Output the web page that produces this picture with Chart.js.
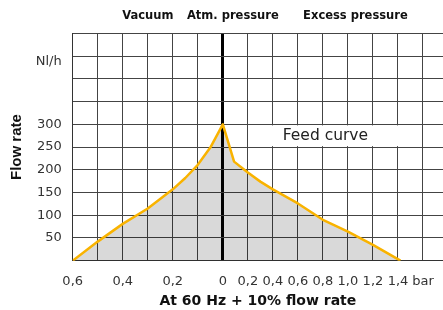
<!DOCTYPE html>
<html>
<head>
<meta charset="utf-8">
<script src="https://cdn.jsdelivr.net/npm/chart.js@4/dist/chart.umd.min.js"></script>
<style>
  html, body { margin: 0; padding: 0; background: #fff; }
</style>
</head>
<body>
<canvas id="chart" width="443" height="310"></canvas>
<script>
// vacuum side (bar below atmosphere) and excess side (bar above atmosphere)
const vacuumBar = [0.6, 0.5, 0.4, 0.3, 0.2, 0.15, 0.1, 0.05, 0];
const vacuumFlow = [0, 42, 81, 115, 157, 182, 211, 249, 300];
const excessBar = [0.09, 0.2, 0.3, 0.4, 0.6, 0.8, 1.0, 1.2, 1.42];
const excessFlow = [218, 194, 174, 157, 126, 90, 64, 35, 0];

// one grid column = 0.1 bar of vacuum or 0.2 bar of excess pressure
const xTickLabels = ['0,6', '', '0,4', '', '0,2', '', '0',
    '0,2', '0,4', '0,6', '0,8', '1,0', '1,2', '1,4', 'bar'];
const yTickLabels = [50, 100, 150, 200, 250, 300];

const toCol = (bar, side) => side === 'vacuum' ? -bar / 0.1 : bar / 0.2;

const points = [];
vacuumBar.forEach((b, i) => points.push({ x: toCol(b, 'vacuum'), y: vacuumFlow[i] }));
excessBar.forEach((b, i) => points.push({ x: toCol(b, 'excess'), y: excessFlow[i] }));

const labelsPlugin = {
    id: 'labels',
    afterDatasetsDraw(chart) {
        const ctx = chart.ctx;
        const xs = chart.scales.x;
        const ys = chart.scales.y;
        ctx.save();

        // feed curve label box
        const x1 = xs.getPixelForValue(1) + 1;
        const x2 = xs.getPixelForValue(8) - 1;
        const y1 = ys.getPixelForValue(300) + 1;
        const y2 = ys.getPixelForValue(250) - 1;
        ctx.fillStyle = '#fff';
        ctx.fillRect(x1, y1, x2 - x1, y2 - y1);
        ctx.fillStyle = '#222';
        ctx.font = '15.5px "DejaVu Sans"';
        ctx.textAlign = 'center';
        ctx.textBaseline = 'middle';
        ctx.fillText('Feed curve', xs.getPixelForValue(4.1), (y1 + y2) / 2);

        // region labels above the grid
        ctx.fillStyle = '#111';
        ctx.font = 'bold 11.5px "DejaVu Sans"';
        ctx.fillText('Vacuum', xs.getPixelForValue(-3), 16);
        ctx.fillText('Atm. pressure', xs.getPixelForValue(0.4), 16);
        ctx.fillText('Excess pressure', xs.getPixelForValue(5.3), 16);

        // unit label
        ctx.fillStyle = '#333';
        ctx.font = '13px "DejaVu Sans"';
        ctx.textAlign = 'right';
        ctx.fillText('Nl/h', chart.chartArea.left - 11, 62);
        ctx.restore();
    }
};

new Chart(document.getElementById('chart'), {
    type: 'line',
    data: {
        datasets: [{
            data: points,
            borderColor: '#f9b300',
            borderWidth: 2.5,
            borderJoinStyle: 'round',
            backgroundColor: 'rgba(0,0,0,0.15)',
            fill: 'origin',
            pointRadius: 0,
            tension: 0
        }]
    },
    options: {
        responsive: false,
        animation: false,
        layout: { padding: { left: 8, top: 33.5, right: 0, bottom: 0 } },
        plugins: {
            legend: { display: false },
            tooltip: { enabled: false }
        },
        scales: {
            x: {
                type: 'linear',
                min: -6,
                max: 8.8,
                afterBuildTicks: (scale) => {
                    scale.ticks = xTickLabels.map((l, i) => ({ value: i - 6 }));
                },
                afterFit: (scale) => {
                    scale.height = 49.3;
                    scale.paddingLeft = 0;
                    scale.paddingRight = 0;
                },
                ticks: {
                    autoSkip: false,
                    maxRotation: 0,
                    padding: 13,
                    color: '#333',
                    font: { family: 'DejaVu Sans', size: 13 },
                    callback: (v, i) => xTickLabels[i]
                },
                grid: {
                    drawTicks: false,
                    color: (c) => (c.tick && c.tick.value === 0) ? '#000' : '#444',
                    lineWidth: (c) => (c.tick && c.tick.value === 0) ? 3 : 1
                },
                border: { color: '#333' },
                title: {
                    display: true,
                    text: 'At 60 Hz + 10% flow rate',
                    color: '#111',
                    font: { family: 'DejaVu Sans', size: 14, weight: 'bold' },
                    padding: 0
                }
            },
            y: {
                min: 0,
                max: 500,
                afterFit: (scale) => {
                    scale.width = 64.7;
                },
                ticks: {
                    stepSize: 50,
                    padding: 11,
                    color: '#333',
                    font: { family: 'DejaVu Sans', size: 13 },
                    callback: (v) => yTickLabels.includes(v) ? String(v) : ''
                },
                grid: { drawTicks: false, color: '#444' },
                border: { color: '#333' },
                title: {
                    display: true,
                    text: 'Flow rate',
                    color: '#111',
                    font: { family: 'Liberation Sans', size: 15, weight: 'bold' },
                    padding: 0
                }
            }
        }
    },
    plugins: [labelsPlugin]
});
</script>
</body>
</html>
